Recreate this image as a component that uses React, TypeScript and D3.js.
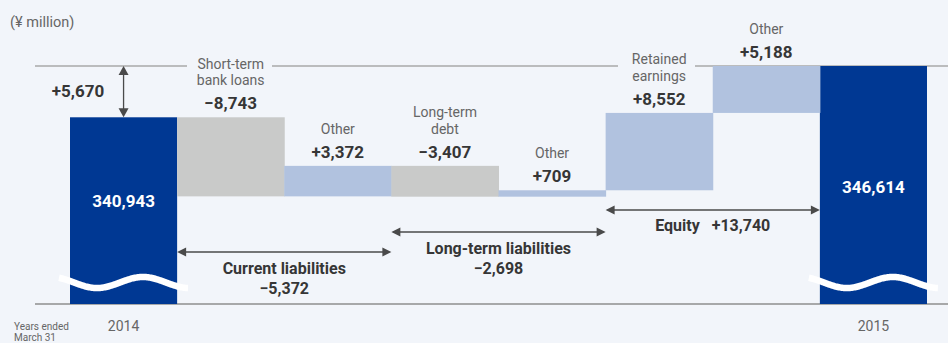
import React from "react";
import * as d3 from "d3";

const W = 948;
const H = 343;

const columns = ["2014", "s1", "s2", "s3", "s4", "s5", "s6", "2015"];
const startTotal = 340943;
const endTotal = 346614;
const startLabel = "340,943";
const endLabel = "346,614";
const stepLabels = [
  ["Short-term", "bank loans"],
  ["Other"],
  ["Long-term", "debt"],
  ["Other"],
  ["Retained", "earnings"],
  ["Other"],
];
const stepValues = [-8743, 3372, -3407, 709, 8552, 5188];
const stepValueLabels = ["−8,743", "+3,372", "−3,407", "+709", "+8,552", "+5,188"];
const stepKinds = ["minus", "plus", "minus", "plus", "plus", "plus"];
const groupNames = ["Current liabilities", "Long-term liabilities", "Equity"];
const groupValueLabels = ["−5,372", "−2,698", "+13,740"];
const groupSpans = [
  [1, 2],
  [3, 4],
  [5, 6],
];
const diffLabel = "+5,670";
const yearLabels = ["2014", "2015"];

const FONT = "Roboto, 'Noto Sans', sans-serif";
const C_DARK = "#003893";
const C_GRAY = "#c9cac9";
const C_LIGHT = "#b1c2df";
const C_TEXT = "#363636";
const C_LABEL = "#666666";
const C_LINE = "#a9a9a9";
const C_ARROW = "#4a4a4a";

export default function App() {
  const x = d3.scaleBand<string>().domain(columns).range([70, 927]).padding(0);
  const y = d3.scaleLinear().domain([320300, endTotal]).range([304, 66]);
  const bw = x.bandwidth();

  let cum = startTotal;
  const steps = stepValues.map((v, i) => {
    const from = cum;
    cum += v;
    return { col: columns[i + 1], from, to: cum, v, i };
  });

  const yBase = y(endTotal);
  const yAxis = y(320300);

  const wave = (left: number) => {
    const pts: [number, number][] = d3.range(-11, 118.5, 1).map((t) => [
      left + t,
      y(320300) - 21.5 - 5.5 * Math.cos((2 * Math.PI * (t - 73)) / 92),
    ]);
    return d3.line()(pts) || "";
  };

  const arrowH = (x1: number, x2: number, yy: number) => {
    const h = 4.5;
    const l = 9;
    return (
      <g>
        <line x1={x1 + 2} x2={x2 - 2} y1={yy} y2={yy} stroke={C_ARROW} strokeWidth={1.3} />
        <path d={`M${x1},${yy}L${x1 + l},${yy - h}L${x1 + l},${yy + h}Z`} fill={C_ARROW} />
        <path d={`M${x2},${yy}L${x2 - l},${yy - h}L${x2 - l},${yy + h}Z`} fill={C_ARROW} />
      </g>
    );
  };

  const x2014 = x("2014")!;
  const x2015 = x("2015")!;
  const cx2014 = x2014 + bw / 2;
  const cx2015 = x2015 + bw / 2;
  const yStart = y(startTotal);

  const gaps = [
    [187, 272],
    [618, 695],
  ];
  const segs: [number, number][] = [];
  let s = 35;
  gaps.forEach(([a, b]) => {
    segs.push([s, a]);
    s = b;
  });
  segs.push([s, W]);

  return (
    <svg
      width={W}
      height={H}
      style={{ position: "absolute", left: 0, top: 0, fontFamily: FONT }}
    >
      <rect width={W} height={H} fill="#f2f5fa" />
      <text x={10} y={27} fontSize={14.5} fill={C_LABEL}>
        (¥ million)
      </text>

      {segs.map(([a, b], i) => (
        <line key={i} x1={a} x2={b} y1={yBase} y2={yBase} stroke={C_LINE} strokeWidth={1.5} />
      ))}
      <line x1={35} x2={W} y1={yAxis} y2={yAxis} stroke="#8e8e8e" strokeWidth={1.3} />

      <rect x={x2014} y={yStart} width={bw} height={yAxis - yStart} fill={C_DARK} />
      <rect x={x2015} y={yBase} width={bw} height={yAxis - yBase} fill={C_DARK} />
      <path d={wave(x2014)} fill="none" stroke="#fff" strokeWidth={6.5} />
      <path d={wave(x2015)} fill="none" stroke="#fff" strokeWidth={6.5} />
      <text x={cx2014} y={207} textAnchor="middle" fontSize={17} fontWeight={700} fill="#fff">
        {startLabel}
      </text>
      <text x={cx2015} y={193} textAnchor="middle" fontSize={17} fontWeight={700} fill="#fff">
        {endLabel}
      </text>

      {steps.map((st) => {
        const top = y(Math.max(st.from, st.to));
        const bot = y(Math.min(st.from, st.to));
        const cx = x(st.col)! + bw / 2;
        const lines = stepLabels[st.i];
        const valueY = top - 8;
        return (
          <g key={st.col}>
            <rect
              x={x(st.col)!}
              y={top}
              width={bw + 0.5}
              height={bot - top}
              fill={stepKinds[st.i] === "minus" ? C_GRAY : C_LIGHT}
            />
            <text x={cx} y={valueY} textAnchor="middle" fontSize={17} fontWeight={700} fill={C_TEXT}>
              {stepValueLabels[st.i]}
            </text>
            {lines.map((ln, j) => (
              <text
                key={j}
                x={cx}
                y={valueY - 24 - (lines.length - 1 - j) * 16.5}
                textAnchor="middle"
                fontSize={14}
                fill={C_LABEL}
              >
                {ln}
              </text>
            ))}
          </g>
        );
      })}

      <line x1={cx2014} x2={cx2014} y1={yBase + 3} y2={yStart - 3} stroke={C_ARROW} strokeWidth={1.3} />
      <path d={`M${cx2014},${yBase}L${cx2014 - 5},${yBase + 9}L${cx2014 + 5},${yBase + 9}Z`} fill={C_ARROW} />
      <path d={`M${cx2014},${yStart}L${cx2014 - 5},${yStart - 9}L${cx2014 + 5},${yStart - 9}Z`} fill={C_ARROW} />
      <text x={78} y={97} textAnchor="middle" fontSize={17} fontWeight={700} fill={C_TEXT}>
        {diffLabel}
      </text>

      {groupSpans.map(([a, b], i) => {
        const x1 = x(columns[a])!;
        const x2 = x(columns[b])! + bw;
        const ay = [252, 232, 210][i];
        const cx = (x1 + x2) / 2;
        return (
          <g key={i}>
            {arrowH(x1, x2, ay)}
            {i < 2 ? (
              <>
                <text x={cx} y={ay + 22} textAnchor="middle" fontSize={16} fontWeight={700} fill={C_TEXT}>
                  {groupNames[i]}
                </text>
                <text x={cx} y={ay + 42} textAnchor="middle" fontSize={16} fontWeight={700} fill={C_TEXT}>
                  {groupValueLabels[i]}
                </text>
              </>
            ) : (
              <text x={cx} y={ay + 21} textAnchor="middle" fontSize={16} fontWeight={700} fill={C_TEXT} xmlSpace="preserve">
                {groupNames[i] + "   " + groupValueLabels[i]}
              </text>
            )}
          </g>
        );
      })}

      <text x={cx2014} y={331} textAnchor="middle" fontSize={14} fill={C_LABEL}>
        {yearLabels[0]}
      </text>
      <text x={cx2015} y={331} textAnchor="middle" fontSize={14} fill={C_LABEL}>
        {yearLabels[1]}
      </text>
      <text x={14} y={330} fontSize={10} fill={C_LABEL}>
        Years ended
      </text>
      <text x={14} y={341} fontSize={10} fill={C_LABEL}>
        March 31
      </text>
    </svg>
  );
}
